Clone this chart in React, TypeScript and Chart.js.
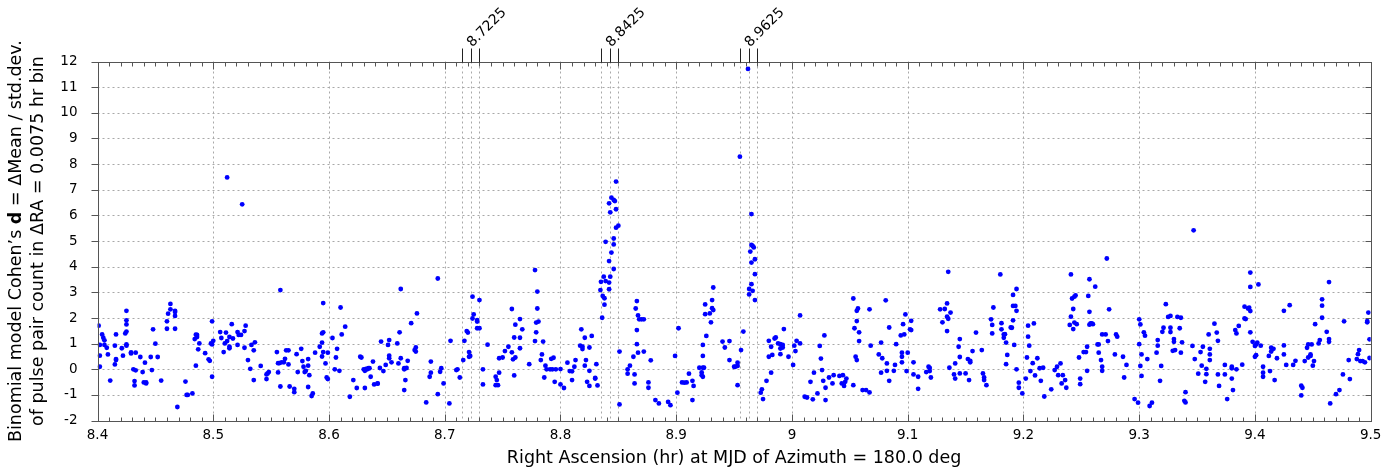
import React, { useEffect, useRef } from "react";
import { Chart, registerables } from "chart.js";

Chart.register(...registerables);

// Binned Cohen's d values: [right ascension (hr), d]
const seg840: [number, number][] = [
  [8.401,1.70],[8.402,0.95],[8.402,0.53],[8.402,0.10],[8.404,1.36],[8.405,1.23],[8.406,1.13],[8.406,0.95],[8.408,0.84],[8.409,0.58],[8.411,-0.44],
  [8.415,0.92],[8.415,0.19],[8.416,0.36],[8.416,1.36],[8.416,0.40],[8.421,0.82],[8.422,0.53],[8.424,1.40],[8.425,1.75],[8.425,1.91],[8.425,2.28],
  [8.425,1.47],[8.425,0.97],[8.425,0.92],[8.429,0.62],[8.429,0.66],[8.431,0.00],[8.432,-0.46],[8.432,-0.63],[8.433,-0.04],[8.433,0.65],[8.437,0.48],
  [8.439,-0.11],[8.440,-0.51],[8.441,0.26],[8.442,-0.51],[8.442,-0.55],[8.446,0.48],[8.447,-0.03],[8.448,1.56],[8.450,1.00],[8.452,0.48],[8.455,-0.44],
  [8.460,1.87],[8.460,1.58],[8.461,2.17],[8.463,2.34],[8.463,2.55],[8.467,2.23],[8.467,2.08],[8.467,1.58],[8.467,2.28],[8.469,-1.47],[8.476,-0.48],
  [8.477,-1.00],[8.478,-1.00],[8.482,-0.94],[8.484,1.18],[8.485,1.35],[8.485,0.14],[8.486,1.26],[8.486,1.34],[8.487,0.78],[8.488,1.01],[8.493,0.63],
  [8.496,0.39],[8.497,0.33],[8.498,1.01],[8.499,1.87],[8.499,-0.29],[8.499,0.97],[8.500,1.11],
];

const seg850: [number, number][] = [
  [8.506,1.45],[8.507,1.22],[8.509,0.67],[8.510,1.01],[8.512,7.48],[8.511,1.43],[8.512,1.10],[8.514,0.88],[8.514,1.26],[8.514,0.82],[8.516,1.76],
  [8.517,1.20],[8.521,1.45],[8.521,0.95],[8.522,1.34],[8.524,1.34],[8.525,6.43],[8.527,1.49],[8.527,0.84],[8.528,1.70],[8.530,0.36],[8.532,0.02],
  [8.533,0.95],[8.535,-0.42],[8.535,0.74],[8.536,1.05],[8.541,0.13],[8.546,-0.20],[8.546,-0.38],[8.547,-0.16],[8.548,-0.11],[8.555,0.67],[8.556,-0.12],
  [8.556,0.24],[8.557,0.24],[8.558,3.09],[8.558,-0.67],[8.559,0.27],[8.561,0.27],[8.562,0.41],[8.563,0.74],[8.565,0.74],[8.565,0.19],[8.566,-0.67],
  [8.570,-0.89],[8.570,-0.76],[8.572,0.59],[8.573,-0.11],[8.576,0.80],[8.577,0.32],[8.578,0.10],[8.579,-0.11],[8.580,-0.06],[8.582,0.14],[8.582,0.40],
  [8.582,-0.69],[8.583,-0.23],[8.585,-1.04],[8.586,-0.94],[8.588,0.65],[8.592,0.88],[8.594,0.50],[8.594,1.04],[8.594,1.40],[8.595,0.67],[8.595,2.58],
  [8.595,1.44],[8.597,0.23],[8.598,-0.32],[8.599,-0.38],[8.599,0.65],
];

const seg860: [number, number][] = [
  [8.603,1.22],[8.605,0.00],[8.606,0.46],[8.607,0.80],[8.609,-0.06],[8.610,2.41],[8.611,1.36],[8.614,1.66],[8.618,-1.07],[8.621,-0.42],
  [8.624,-0.73],[8.627,0.49],[8.628,0.46],[8.630,0.00],[8.631,-0.06],[8.631,-0.73],[8.632,0.02],[8.633,0.00],[8.634,0.04],[8.635,0.04],[8.636,-0.29],
  [8.638,0.30],[8.639,-0.59],[8.642,-0.56],[8.642,-0.55],[8.644,0.05],[8.645,1.08],[8.647,-0.07],[8.649,0.17],[8.651,0.95],[8.652,0.53],[8.652,0.43],
  [8.652,1.14],[8.654,0.27],[8.659,1.01],[8.660,0.23],[8.661,1.44],[8.662,3.13],[8.662,0.43],[8.665,0.00],[8.665,0.04],[8.666,-0.42],[8.665,-0.81],
  [8.667,0.05],[8.668,0.33],[8.671,1.80],[8.674,0.75],[8.675,0.69],[8.675,0.85],[8.676,2.18],[8.684,-1.29],[8.687,-0.29],[8.688,-0.13],[8.688,0.30],
  [8.694,3.54],[8.694,-0.97],[8.696,-0.10],[8.697,0.04],[8.699,-0.55],
];

const seg870: [number, number][] = [
  [8.704,-1.33],[8.705,1.11],[8.710,-0.03],[8.711,0.00],[8.713,-0.32],[8.716,0.36],[8.717,1.11],[8.719,1.49],[8.720,1.43],[8.721,0.67],[8.721,0.49],
  [8.722,0.52],[8.724,1.98],[8.724,2.83],[8.725,2.14],[8.728,1.92],[8.728,1.86],[8.728,1.60],[8.730,1.60],[8.730,2.70],[8.733,0.00],[8.733,-0.59],
  [8.737,0.96],[8.744,-0.29],[8.744,-0.62],[8.745,-0.42],[8.746,-0.62],[8.747,-0.13],[8.747,0.43],[8.750,0.46],[8.752,0.71],[8.755,0.88],[8.758,0.66],
  [8.758,2.35],[8.759,0.39],[8.760,-0.24],[8.760,1.24],[8.761,1.74],[8.761,0.46],[8.765,1.96],[8.765,0.82],[8.765,1.23],[8.767,1.56],[8.773,0.20],
  [8.778,3.87],[8.778,1.10],[8.779,1.44],[8.779,1.82],[8.780,3.03],[8.780,2.37],[8.781,1.86],[8.784,0.58],[8.783,0.36],[8.785,1.08],[8.786,-0.32],
  [8.787,0.14],[8.788,0.00],[8.791,0.00],[8.792,0.41],[8.793,0.00],[8.794,0.45],[8.795,-0.49],[8.796,0.00],
];

const seg880: [number, number][] = [
  [8.800,0.01],[8.800,-0.59],[8.803,-0.73],[8.806,0.26],[8.808,-0.07],[8.810,-0.08],[8.810,-0.42],[8.812,0.10],[8.813,0.36],[8.817,0.92],[8.818,1.56],
  [8.819,0.79],[8.819,0.88],[8.821,1.23],[8.822,0.36],[8.821,0.14],[8.823,-0.49],[8.825,-0.65],[8.825,-0.06],[8.825,0.85],[8.827,1.30],[8.830,-0.36],
  [8.830,-0.34],[8.831,0.20],[8.832,-0.63],
  [8.8345,3.09],[8.835,3.41],[8.836,2.01],[8.8365,2.86],[8.8374,3.61],[8.838,2.77],[8.838,2.52],[8.839,4.97],[8.839,3.44],
  [8.842,6.47],[8.843,6.12],[8.844,6.69],[8.846,6.60],[8.847,6.56],[8.848,7.32],[8.848,6.24],[8.848,5.52],[8.850,5.60],[8.846,5.10],[8.846,4.87],
  [8.844,4.55],[8.842,4.22],[8.843,3.61],[8.846,3.91],[8.842,3.38],[8.842,3.12],
  [8.851,0.69],[8.851,-1.37],[8.858,0.00],[8.858,-0.17],[8.860,0.14],[8.863,0.49],[8.864,-0.20],[8.864,-0.55],[8.865,2.37],[8.866,2.66],[8.866,1.53],
  [8.866,0.98],[8.867,2.10],[8.867,0.65],[8.868,1.95],[8.870,1.95],[8.872,1.95],[8.872,0.69],[8.876,-0.51],[8.876,-0.72],[8.878,0.35],[8.882,-1.20],
  [8.885,-1.33],[8.893,-1.27],[8.895,-1.40],[8.899,0.52],
];

const seg890: [number, number][] = [
  [8.901,-0.91],[8.902,1.60],[8.905,-0.51],[8.907,-0.52],[8.909,-0.51],[8.911,-0.17],[8.914,-0.45],[8.915,-0.65],[8.914,-1.20],[8.920,0.06],[8.922,-0.12],
  [8.922,-0.23],[8.923,0.06],[8.923,0.52],[8.923,0.95],[8.924,0.06],[8.923,-0.29],[8.925,2.15],[8.925,2.53],[8.926,1.30],[8.929,2.18],[8.930,1.83],
  [8.931,2.70],[8.932,3.19],[8.932,2.31],[8.931,2.38],[8.940,1.08],[8.942,0.85],[8.946,1.10],[8.946,0.36],[8.950,0.10],[8.951,0.10],[8.953,0.13],
  [8.953,0.26],[8.953,-0.62],[8.956,0.75],[8.955,8.29],[8.958,1.47],[8.962,11.71],
  [8.963,3.13],[8.963,2.92],[8.964,4.59],[8.965,6.05],[8.965,4.85],[8.966,4.81],[8.967,4.75],[8.965,4.16],[8.968,4.29],[8.968,3.71],[8.965,3.32],
  [8.966,3.06],[8.968,2.70],
  [8.973,-0.91],[8.974,-0.78],[8.975,-1.16],[8.978,-0.45],[8.980,0.49],[8.980,1.11],[8.982,0.88],[8.982,-0.13],[8.983,0.56],[8.985,1.20],[8.986,1.24],
  [8.988,1.01],[8.990,0.98],[8.990,0.81],[8.990,0.59],[8.992,0.95],[8.993,1.57],[8.992,0.85],[8.997,0.49],
];

const seg900: [number, number][] = [
  [9.001,0.17],[9.002,0.92],[9.003,0.71],[9.004,1.11],[9.007,2.10],[9.007,1.01],[9.011,-1.07],[9.013,-1.10],[9.016,-0.49],[9.018,-1.17],[9.019,-0.13],
  [9.022,-0.94],[9.024,0.91],[9.025,0.42],[9.026,-0.03],[9.027,-0.45],[9.028,1.32],[9.029,-0.72],[9.029,-1.20],[9.032,-0.32],[9.035,-0.55],[9.036,-0.23],
  [9.041,-0.26],[9.043,-0.55],[9.044,-0.23],[9.045,-0.65],[9.046,-0.49],[9.047,-0.36],[9.053,-0.62],[9.054,1.60],[9.055,0.49],[9.056,0.36],[9.056,1.88],
  [9.056,2.28],[9.057,2.37],[9.058,1.44],[9.058,1.10],[9.053,2.76],[9.061,-0.81],[9.064,-0.81],[9.067,-0.90],[9.067,2.34],[9.068,0.92],[9.075,0.58],
  [9.077,1.04],[9.077,-0.13],[9.078,0.43],[9.081,2.69],[9.082,0.23],[9.082,-0.06],[9.084,1.63],[9.084,-0.45],[9.088,-0.06],[9.089,0.17],[9.090,0.98],
  [9.094,1.32],[9.095,0.65],[9.095,0.49],[9.095,0.27],[9.096,1.76],[9.097,1.36],[9.098,2.14],[9.099,-0.07],
];

const seg910: [number, number][] = [
  [9.100,0.65],[9.102,1.56],[9.103,1.89],[9.103,1.53],[9.105,0.27],[9.105,-0.20],[9.109,-0.29],[9.109,-0.76],[9.116,-0.11],[9.118,0.10],[9.119,0.05],
  [9.119,-0.07],[9.120,-0.32],[9.128,2.34],[9.130,1.83],[9.132,2.35],[9.134,2.57],[9.134,2.05],[9.135,1.97],[9.134,1.49],[9.135,3.80],[9.136,0.06],
  [9.137,2.21],[9.140,-0.20],[9.141,-0.36],[9.141,0.23],[9.144,0.88],[9.145,0.48],[9.145,1.18],[9.145,-0.16],[9.150,-0.16],[9.152,0.40],[9.153,-0.42],
  [9.154,0.27],[9.154,0.33],[9.156,0.71],[9.159,1.43],[9.164,0.75],[9.165,-0.16],[9.166,-0.32],[9.166,-0.42],[9.168,-0.62],[9.172,1.95],[9.173,1.73],
  [9.173,1.40],[9.174,2.41],[9.180,3.70],[9.181,1.80],[9.181,1.56],[9.183,1.23],[9.183,1.36],[9.184,1.37],[9.185,1.04],[9.185,0.20],[9.186,0.56],
  [9.189,1.63],[9.190,1.62],[9.191,2.47],[9.191,1.91],[9.191,2.90],[9.192,0.95],[9.193,2.47],[9.194,3.13],[9.194,2.28],[9.194,0.00],[9.196,-0.52],
  [9.196,-0.72],[9.199,-0.94],
];

const seg920: [number, number][] = [
  [9.202,-0.36],[9.203,0.46],[9.204,1.70],[9.204,1.27],[9.205,0.92],[9.206,-0.07],[9.208,0.24],[9.209,1.79],[9.210,-0.24],[9.212,0.43],[9.214,0.04],
  [9.215,-0.45],[9.217,0.06],[9.218,-1.06],[9.224,-0.78],[9.227,-0.03],[9.229,0.10],[9.230,-0.23],[9.232,0.23],[9.233,-0.55],[9.234,-0.23],[9.236,-0.42],
  [9.237,-0.72],[9.240,1.73],[9.241,2.05],[9.241,3.70],[9.242,2.76],[9.243,1.57],[9.243,2.35],[9.244,1.82],[9.244,2.83],[9.245,2.88],[9.246,1.76],
  [9.248,0.46],[9.249,-0.36],[9.249,-0.58],[9.252,0.67],[9.254,0.67],[9.255,0.88],[9.255,-0.06],[9.256,2.86],[9.257,2.24],[9.257,1.74],[9.257,3.51],
  [9.258,1.79],[9.259,1.79],[9.260,1.76],[9.262,3.22],[9.264,0.97],[9.265,0.97],[9.265,0.65],[9.267,0.36],[9.268,0.10],[9.268,-0.06],[9.268,1.36],
  [9.271,1.36],[9.272,4.32],[9.273,1.10],[9.274,2.34],[9.279,0.58],[9.280,1.36],[9.281,1.27],[9.286,0.49],[9.287,-0.32],[9.289,0.17],[9.296,-1.16],
  [9.299,-1.30],
];

const seg930: [number, number][] = [
  [9.300,1.95],[9.301,1.75],[9.300,0.98],[9.301,0.13],[9.302,0.58],[9.302,-0.26],[9.304,1.44],[9.305,1.31],[9.307,0.40],[9.309,-1.43],[9.311,-1.30],
  [9.315,0.65],[9.316,0.92],[9.316,1.14],[9.319,0.13],[9.318,-0.45],[9.320,1.46],[9.321,1.62],[9.323,2.54],[9.325,2.04],[9.327,2.08],[9.327,1.45],
  [9.327,1.62],[9.329,0.72],[9.330,1.18],[9.330,1.07],[9.331,0.75],[9.333,2.04],[9.335,1.60],[9.336,0.65],[9.336,2.01],[9.337,1.05],[9.339,-1.23],
  [9.340,-1.29],[9.340,-0.89],[9.346,0.91],[9.347,5.42],[9.348,0.40],[9.351,-0.17],[9.353,0.67],[9.354,0.14],[9.355,0.88],[9.357,-0.49],[9.358,-0.19],
  [9.358,0.02],[9.360,1.36],[9.361,0.80],[9.361,0.58],[9.361,0.36],[9.365,1.78],[9.367,1.43],[9.368,1.11],[9.368,-0.20],[9.369,-0.65],[9.374,0.17],
  [9.374,-0.20],[9.376,-1.16],[9.380,0.10],[9.380,0.04],[9.380,-0.36],[9.381,-0.81],[9.383,1.53],[9.384,1.40],[9.384,0.00],[9.386,1.69],[9.389,0.18],
  [9.391,2.44],[9.391,1.98],[9.392,1.96],[9.394,2.37],[9.395,2.40],[9.396,3.77],[9.396,3.21],[9.396,2.27],[9.396,1.44],[9.398,1.07],
];

const seg940: [number, number][] = [
  [9.400,0.49],[9.400,0.91],[9.401,0.55],[9.401,0.97],[9.402,1.04],[9.403,3.31],[9.405,0.92],[9.407,-0.13],[9.407,-0.29],[9.407,0.10],[9.412,0.52],
  [9.413,-0.07],[9.414,0.69],[9.414,0.84],[9.416,0.80],[9.417,-0.42],[9.419,0.43],[9.425,2.28],[9.425,0.58],[9.425,0.93],[9.427,0.17],[9.430,2.50],
  [9.433,0.17],[9.435,0.33],[9.440,-0.64],[9.441,-0.72],[9.440,-1.02],[9.443,0.32],[9.445,0.84],[9.446,0.97],[9.446,0.46],[9.448,0.52],[9.448,0.58],
  [9.449,0.97],[9.450,0.14],[9.451,0.32],[9.452,1.76],[9.455,1.01],[9.456,1.14],[9.458,2.73],[9.458,2.48],[9.458,2.01],[9.462,1.46],[9.464,1.18],
  [9.464,1.07],[9.464,3.40],[9.465,-1.33],[9.470,-0.97],[9.473,-0.81],[9.476,-0.20],[9.477,1.87],[9.481,0.36],[9.482,-0.38],[9.488,0.40],[9.489,0.59],
  [9.490,0.75],[9.491,0.32],[9.493,0.32],[9.495,0.27],[9.497,1.83],[9.497,1.88],[9.498,2.21],[9.499,1.17],[9.499,0.44],
];

const allPoints = [
  ...seg840, ...seg850, ...seg860, ...seg870, ...seg880,
  ...seg890, ...seg900, ...seg910, ...seg920, ...seg930, ...seg940,
];

// Flagged RA bins (centre) and the bin width on either side
const flaggedCentres = [8.7225, 8.8425, 8.9625];
const flaggedLabels = ["8.7225", "8.8425", "8.9625"];
const binWidth = 0.0075;

const xMin = 8.4;
const xMax = 9.5;
const yMin = -2;
const yMax = 12;
const xMajorStep = 0.1;
const xMinorStep = 0.01;

const FONT = "'DejaVu Sans', 'Liberation Sans', sans-serif";
const TICK_SIZE = 13.5;
const MARK_LABEL_SIZE = 14;
const TITLE_SIZE = 17.5;

const yTitleLine1 = ["Binomial model Cohen\u2019s ", "d", " = \u0394Mean / std.dev."];
const yTitleLine2 = "of pulse pair count in \u0394RA = 0.0075 hr bin";
const xTitle = "Right Ascension (hr) at MJD of Azimuth = 180.0 deg";

const frameColor = "#555555";
const gridColor = "#a8a8a8";

const framePlugin = {
  id: "gnuFrame",
  beforeDatasetsDraw(chart: any) {
    const { ctx, chartArea: a, scales } = chart;
    const xs = scales.x;
    const ys = scales.y;
    ctx.save();
    ctx.strokeStyle = gridColor;
    ctx.lineWidth = 1;
    ctx.setLineDash([2, 3]);
    const nMajor = Math.round((xMax - xMin) / xMajorStep);
    for (let i = 1; i < nMajor; i++) {
      const px = Math.round(xs.getPixelForValue(xMin + i * xMajorStep)) + 0.5;
      ctx.beginPath();
      ctx.moveTo(px, a.top);
      ctx.lineTo(px, a.bottom);
      ctx.stroke();
    }
    for (let v = yMin + 1; v < yMax; v++) {
      const py = Math.round(ys.getPixelForValue(v)) + 0.5;
      ctx.beginPath();
      ctx.moveTo(a.left, py);
      ctx.lineTo(a.right, py);
      ctx.stroke();
    }
    // dotted guides at each flagged bin and its neighbours
    for (const c of flaggedCentres) {
      for (const off of [-binWidth, 0, binWidth]) {
        const px = Math.round(xs.getPixelForValue(c + off)) + 0.5;
        ctx.beginPath();
        ctx.moveTo(px, a.top);
        ctx.lineTo(px, a.bottom);
        ctx.stroke();
      }
    }
    ctx.restore();
  },
  afterDatasetsDraw(chart: any) {
    const { ctx, chartArea: a, scales } = chart;
    const xs = scales.x;
    const ys = scales.y;
    ctx.save();
    ctx.strokeStyle = frameColor;
    ctx.lineWidth = 1;
    ctx.setLineDash([]);
    const L = Math.round(a.left) + 0.5;
    const R = Math.round(a.right) + 0.5;
    const T = Math.round(a.top) + 0.5;
    const B = Math.round(a.bottom) + 0.5;
    ctx.strokeRect(L, T, R - L, B - T);

    ctx.beginPath();
    // x minor and major ticks on bottom and top, pointing inwards
    const nMinor = Math.round((xMax - xMin) / xMinorStep);
    for (let i = 0; i <= nMinor; i++) {
      const px = Math.round(xs.getPixelForValue(xMin + i * xMinorStep)) + 0.5;
      const len = i % 10 === 0 ? 7 : 4;
      ctx.moveTo(px, B);
      ctx.lineTo(px, B - len);
      ctx.moveTo(px, T);
      ctx.lineTo(px, T + len);
    }
    // y ticks: outward on the left, inward on the right
    for (let v = yMin; v <= yMax; v++) {
      const py = Math.round(ys.getPixelForValue(v)) + 0.5;
      ctx.moveTo(L, py);
      ctx.lineTo(L - 7, py);
      ctx.moveTo(R, py);
      ctx.lineTo(R - 6, py);
    }
    ctx.stroke();

    // tall markers above the frame for the flagged bins
    ctx.strokeStyle = "#222222";
    ctx.beginPath();
    for (const c of flaggedCentres) {
      for (const off of [-binWidth, 0, binWidth]) {
        const px = Math.round(xs.getPixelForValue(c + off)) + 0.5;
        ctx.moveTo(px, T);
        ctx.lineTo(px, T - 14);
      }
    }
    ctx.stroke();

    ctx.fillStyle = "#000000";
    ctx.font = `${MARK_LABEL_SIZE}px ${FONT}`;
    ctx.textAlign = "left";
    ctx.textBaseline = "alphabetic";
    flaggedCentres.forEach((c, i) => {
      const px = xs.getPixelForValue(c);
      ctx.save();
      ctx.translate(px + 1.5, T - 15);
      ctx.rotate(-Math.PI / 4);
      ctx.fillText(flaggedLabels[i], 0, 0);
      ctx.restore();
    });

    // axis titles
    const cy = (a.top + a.bottom) / 2;
    const cx = (a.left + a.right) / 2;
    ctx.font = `${TITLE_SIZE}px ${FONT}`;
    ctx.textBaseline = "middle";
    ctx.textAlign = "center";
    ctx.fillText(xTitle, cx, 458);

    ctx.save();
    ctx.translate(16, cy);
    ctx.rotate(-Math.PI / 2);
    const plain = `${TITLE_SIZE}px ${FONT}`;
    const bold = `bold ${TITLE_SIZE}px ${FONT}`;
    const widths = yTitleLine1.map((s, i) => {
      ctx.font = i === 1 ? bold : plain;
      return ctx.measureText(s).width;
    });
    const total = widths.reduce((p, w) => p + w, 0);
    let xPos = -total / 2;
    ctx.textAlign = "left";
    yTitleLine1.forEach((s, i) => {
      ctx.font = i === 1 ? bold : plain;
      ctx.fillText(s, xPos, 0);
      xPos += widths[i];
    });
    ctx.font = plain;
    ctx.textAlign = "center";
    ctx.fillText(yTitleLine2, 0, 22);
    ctx.restore();

    ctx.restore();
  },
};

export default function App() {
  const canvasRef = useRef<HTMLCanvasElement | null>(null);

  useEffect(() => {
    const canvas = canvasRef.current;
    if (!canvas) return;
    const chart = new Chart(canvas, {
      type: "scatter",
      data: {
        datasets: [
          {
            data: allPoints.map(([x, y]) => ({ x, y })),
            pointRadius: 2.4,
            pointHoverRadius: 2.4,
            pointBackgroundColor: "#0000ff",
            pointBorderWidth: 0,
            showLine: false,
          },
        ],
      },
      options: {
        animation: false,
        responsive: false,
        devicePixelRatio: 1,
        events: [],
        layout: { padding: { left: 0, top: 61.5, right: 25.3, bottom: 0 } },
        plugins: {
          legend: { display: false },
          tooltip: { enabled: false },
        },
        scales: {
          x: {
            type: "linear",
            min: xMin,
            max: xMax,
            grid: { display: false, drawTicks: false },
            border: { display: false },
            ticks: {
              stepSize: xMajorStep,
              autoSkip: false,
              maxRotation: 0,
              padding: 7,
              color: "#000000",
              font: { family: FONT, size: TICK_SIZE },
              callback: (v: any) => String(Math.round(Number(v) * 10) / 10),
            },
            afterFit: (s: any) => {
              s.height = 49.4;
            },
          },
          y: {
            type: "linear",
            min: yMin,
            max: yMax,
            grid: { display: false, drawTicks: false },
            border: { display: false },
            ticks: {
              stepSize: 1,
              padding: 20,
              color: "#000000",
              font: { family: FONT, size: TICK_SIZE },
            },
            afterFit: (s: any) => {
              s.width = 97.5;
            },
          },
        },
      },
      plugins: [framePlugin],
    });
    return () => chart.destroy();
  }, []);

  return (
    <div style={{ position: "fixed", left: 0, top: 0, width: 1396, height: 470, background: "#ffffff" }}>
      <canvas ref={canvasRef} width={1396} height={470} style={{ width: 1396, height: 470 }} />
    </div>
  );
}
